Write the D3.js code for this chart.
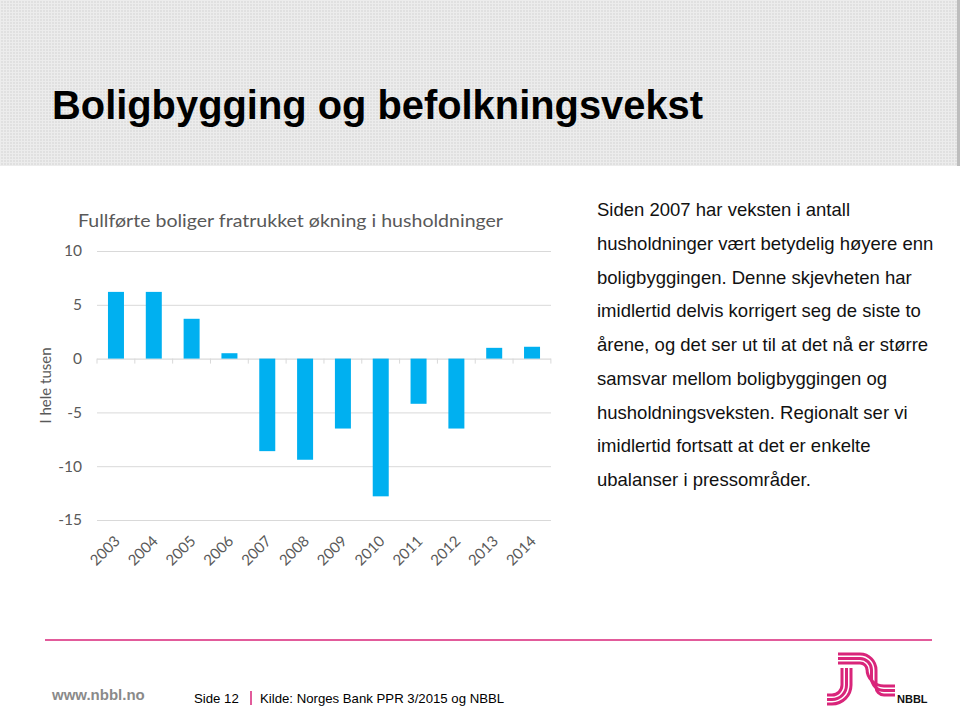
<!DOCTYPE html>
<html lang="no">
<head>
<meta charset="UTF-8">
<title>Boligbygging og befolkningsvekst</title>
<script src="https://cdn.jsdelivr.net/npm/d3@7.8.5/dist/d3.min.js"></script>
<style>
  body { margin: 0; background: #fff; }
  svg { display: block; }
</style>
</head>
<body>
<div id="chart"></div>
<script>
// data (thousands)
const years = ["2003", "2004", "2005", "2006", "2007", "2008", "2009", "2010", "2011", "2012", "2013", "2014"];
const values = [6.2, 6.2, 3.7, 0.5, -8.6, -9.4, -6.5, -12.8, -4.2, -6.5, 1.0, 1.1];
const yTicks = [10, 5, 0, -5, -10, -15];

const slideTitle = "Boligbygging og befolkningsvekst";
const chartTitle = "Fullførte boliger fratrukket økning i husholdninger";
const yLabel = "I hele tusen";
const bodyLines = [
  "Siden 2007 har veksten i antall",
  "husholdninger vært betydelig høyere enn",
  "boligbyggingen. Denne skjevheten har",
  "imidlertid delvis korrigert seg de siste to",
  "årene, og det ser ut til at det nå er større",
  "samsvar mellom boligbyggingen og",
  "husholdningsveksten. Regionalt ser vi",
  "imidlertid fortsatt at det er enkelte",
  "ubalanser i pressområder."
];

const W = 960, H = 711;
const pink = "#d9257a";
const barColor = "#00b0f0";
const sans = "'Liberation Sans', Arial, sans-serif";

const svg = d3.select("#chart").append("svg")
  .attr("width", W).attr("height", H);

// header band with fine grid texture
const defs = svg.append("defs");
const pat = defs.append("pattern")
  .attr("id", "mesh").attr("width", 3).attr("height", 3)
  .attr("patternUnits", "userSpaceOnUse");
pat.append("rect").attr("width", 3).attr("height", 3).attr("fill", "#e0e0e0");
pat.append("rect").attr("width", 3).attr("height", 1).attr("fill", "#ececec");
pat.append("rect").attr("width", 1).attr("height", 3).attr("fill", "#ececec");

svg.append("rect").attr("x", 0).attr("y", 0).attr("width", W).attr("height", 166)
  .attr("fill", "url(#mesh)");
svg.append("rect").attr("x", 957).attr("y", 0).attr("width", 3).attr("height", 166)
  .attr("fill", "#bdbdbd");

svg.append("text")
  .attr("x", 52).attr("y", 119)
  .attr("textLength", 651).attr("lengthAdjust", "spacingAndGlyphs")
  .style("font-family", "'Liberation Sans Narrow', 'Liberation Sans', Arial, sans-serif")
  .style("font-weight", "bold")
  .style("font-size", "41px")
  .attr("fill", "#000")
  .text(slideTitle);

// chart
const x = d3.scaleBand()
  .domain(years)
  .range([97, 551])
  .paddingInner(0.577)
  .paddingOuter(0.29);

const y = d3.scaleLinear()
  .domain([-15, 10])
  .range([520, 251]);

const chartFont = "Lato, 'Open Sans', sans-serif";
const grey = "#595959";

// gridlines + y labels (plain hyphen as in the slide)
const yAxis = svg.append("g")
  .attr("transform", `translate(97,0)`)
  .call(d3.axisLeft(y).tickValues(yTicks).tickSize(-454).tickPadding(15).tickFormat(d => String(d)));
yAxis.select(".domain").remove();
yAxis.selectAll(".tick line").attr("stroke", "#d9d9d9").attr("stroke-width", 1);
yAxis.selectAll(".tick text")
  .style("font-family", chartFont).style("font-size", "15.5px")
  .attr("fill", grey);
yAxis.selectAll(".tick").filter(d => d === 0).select("line").attr("stroke", "#d0d0d0");

// bars
svg.append("g").selectAll("rect")
  .data(values)
  .join("rect")
  .attr("x", (d, i) => x(years[i]))
  .attr("width", x.bandwidth())
  .attr("y", d => y(Math.max(0, d)))
  .attr("height", d => Math.abs(y(d) - y(0)))
  .attr("fill", barColor);

// small category ticks on the zero line
const boundaries = d3.range(years.length + 1).map(i => 97 + i * x.step());
svg.append("g").selectAll("line")
  .data(boundaries)
  .join("line")
  .attr("x1", d => d).attr("x2", d => d)
  .attr("y1", y(0)).attr("y2", y(0) + 5)
  .attr("stroke", "#d9d9d9");

// x labels
const xAxis = svg.append("g")
  .attr("transform", `translate(0,${y(-15)})`)
  .call(d3.axisBottom(x).tickSize(0).tickPadding(0));
xAxis.select(".domain").remove();
xAxis.selectAll(".tick text")
  .attr("y", 0).attr("dy", 0)
  .attr("transform", "translate(5,22) rotate(-45)")
  .style("text-anchor", "end")
  .style("font-family", chartFont).style("font-size", "15px")
  .attr("fill", grey);

// chart title
svg.append("text")
  .attr("x", 78).attr("y", 227)
  .attr("textLength", 425).attr("lengthAdjust", "spacingAndGlyphs")
  .style("font-family", chartFont).style("font-size", "18px")
  .attr("fill", grey)
  .text(chartTitle);

// y axis title
svg.append("text")
  .attr("transform", `translate(51,${y(-2.5)}) rotate(-90)`)
  .attr("text-anchor", "middle")
  .style("font-family", chartFont).style("font-size", "15px")
  .attr("fill", grey)
  .text(yLabel);

// body text on the right
svg.append("g").selectAll("text")
  .data(bodyLines)
  .join("text")
  .attr("x", 597)
  .attr("y", (d, i) => 216 + i * 33.75)
  .style("font-family", sans)
  .style("font-size", "18.5px")
  .attr("fill", "#111")
  .text(d => d);

// footer
svg.append("line")
  .attr("x1", 45).attr("x2", 932).attr("y1", 640).attr("y2", 640)
  .attr("stroke", pink).attr("stroke-width", 1.5);

svg.append("text")
  .attr("x", 52).attr("y", 700)
  .style("font-family", sans)
  .style("font-weight", "bold").style("font-size", "15px")
  .attr("fill", "#8a8a8a")
  .text("www.nbbl.no");

svg.append("text")
  .attr("x", 194).attr("y", 702.5)
  .style("font-family", sans)
  .style("font-size", "13.2px")
  .attr("fill", "#000")
  .text("Side 12");

svg.append("line")
  .attr("x1", 251).attr("x2", 251).attr("y1", 691).attr("y2", 705)
  .attr("stroke", pink).attr("stroke-width", 1.5);

svg.append("text")
  .attr("x", 260).attr("y", 702.5)
  .style("font-family", sans)
  .style("font-size", "13.2px")
  .attr("fill", "#000")
  .text("Kilde: Norges Bank PPR 3/2015 og NBBL");

// NBBL logo, rough stripes
const logo = svg.append("g").attr("fill", "none").attr("stroke", pink).attr("stroke-width", 3);
[0, 1, 2].forEach(i => {
  const d = i * 4.5;
  const r1 = 16 - d;
  const r2 = 8 + d;
  logo.append("path").attr("d",
    `M838,${654 + d} H${860}` +
    ` A${r1},${r1} 0 0 1 ${876 - d},${654 + d + r1}` +
    ` V${695 - d - r2}` +
    ` A${r2},${r2} 0 0 0 ${876 - d + r2},${695 - d}` +
    ` H895`);
  const lx = 842 + d;
  const r3 = 10 + d;
  logo.append("path").attr("d",
    `M${lx},668 V${695 + d - r3}` +
    ` A${r3},${r3} 0 0 1 ${lx - r3},${695 + d}` +
    ` H827`);
});
svg.append("text")
  .attr("x", 897).attr("y", 703)
  .style("font-family", sans)
  .style("font-weight", "bold").style("font-size", "11px")
  .attr("fill", "#111")
  .text("NBBL");
</script>
</body>
</html>
